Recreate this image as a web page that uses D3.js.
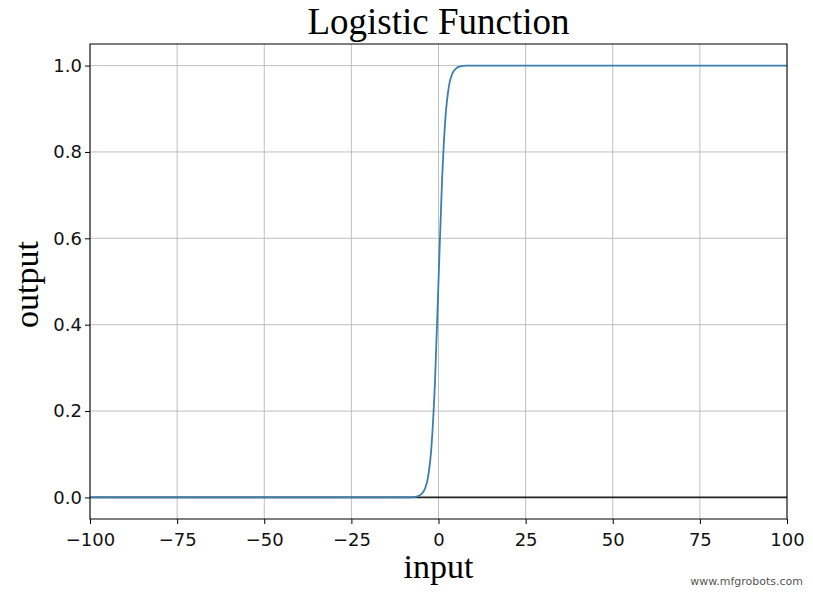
<!DOCTYPE html>
<html><head><meta charset="utf-8">
<script src="https://cdn.jsdelivr.net/npm/d3@7"></script>
<style>body{margin:0;background:#fff}</style>
</head><body>
<svg id="c" width="813" height="592"></svg>
<script>
const xTicks = [-100,-75,-50,-25,0,25,50,75,100];
const yTicks = [0.0,0.2,0.4,0.6,0.8,1.0];
const inputs  = [-100,-50,-20,-10,-8,-6,-5,-4,-3,-2,-1,0,1,2,3,4,5,6,8,10,20,50,100];
const outputs = [0,0,0,0.00005,0.0003,0.0025,0.007,0.018,0.047,0.12,0.27,0.5,0.73,0.88,0.953,0.982,0.993,0.9975,0.9997,0.99995,1,1,1];

const svg = d3.select("#c");
const L=90,R=787,T=44,B=519;
const x = d3.scaleLinear().domain([-100,100]).range([L,R]);
const y = d3.scaleLinear().domain([-0.05,1.05]).range([B,T]);

const g = svg.append("g");
g.selectAll(".vg").data(xTicks).join("line").attr("x1",d=>x(d)).attr("x2",d=>x(d)).attr("y1",T).attr("y2",B).attr("stroke","#b0b0b0").attr("stroke-width",0.8);
g.selectAll(".hg").data(yTicks).join("line").attr("y1",d=>y(d)).attr("y2",d=>y(d)).attr("x1",L).attr("x2",R).attr("stroke","#b0b0b0").attr("stroke-width",0.8);

g.append("line").attr("x1",L).attr("x2",R).attr("y1",y(0)).attr("y2",y(0)).attr("stroke","#222").attr("stroke-width",1.8);

const line = d3.line().x((d,i)=>x(inputs[i])).y(d=>y(d)).curve(d3.curveMonotoneX);
g.append("path").datum(outputs).attr("d",line).attr("fill","none").attr("stroke","#3b7fae").attr("stroke-width",1.8);

const xa = svg.append("g").attr("transform",`translate(0,${B})`).call(d3.axisBottom(x).tickValues(xTicks).tickFormat(d=>d<0?"\u2212"+(-d):d).tickSizeOuter(0).tickSize(5));
const ya = svg.append("g").attr("transform",`translate(${L},0)`).call(d3.axisLeft(y).tickValues(yTicks).tickFormat(d3.format(".1f")).tickSizeOuter(0).tickSize(5));
[xa,ya].forEach(a=>{a.select(".domain").remove();a.selectAll("text").attr("font-family","DejaVu Sans").attr("font-size",18).attr("fill","#111");a.selectAll("line").attr("stroke","#000");});
xa.selectAll("text").attr("dy","1.05em");

svg.append("rect").attr("x",L).attr("y",T).attr("width",R-L).attr("height",B-T).attr("fill","none").attr("stroke","#000").attr("stroke-width",1);

svg.append("text").attr("x",(L+R)/2).attr("y",34).attr("text-anchor","middle").attr("font-family","Liberation Serif").attr("font-size",37).text("Logistic Function");
svg.append("text").attr("x",(L+R)/2).attr("y",578).attr("text-anchor","middle").attr("font-family","Liberation Serif").attr("font-size",34).text("input");
svg.append("text").attr("transform",`translate(38,${(T+B)/2+3}) rotate(-90)`).attr("text-anchor","middle").attr("font-family","Liberation Serif").attr("font-size",34).text("output");
svg.append("text").attr("x",803).attr("y",585).attr("text-anchor","end").attr("font-family","DejaVu Sans").attr("font-size",11).attr("fill","#555").text("www.mfgrobots.com");
</script>
</body></html>
